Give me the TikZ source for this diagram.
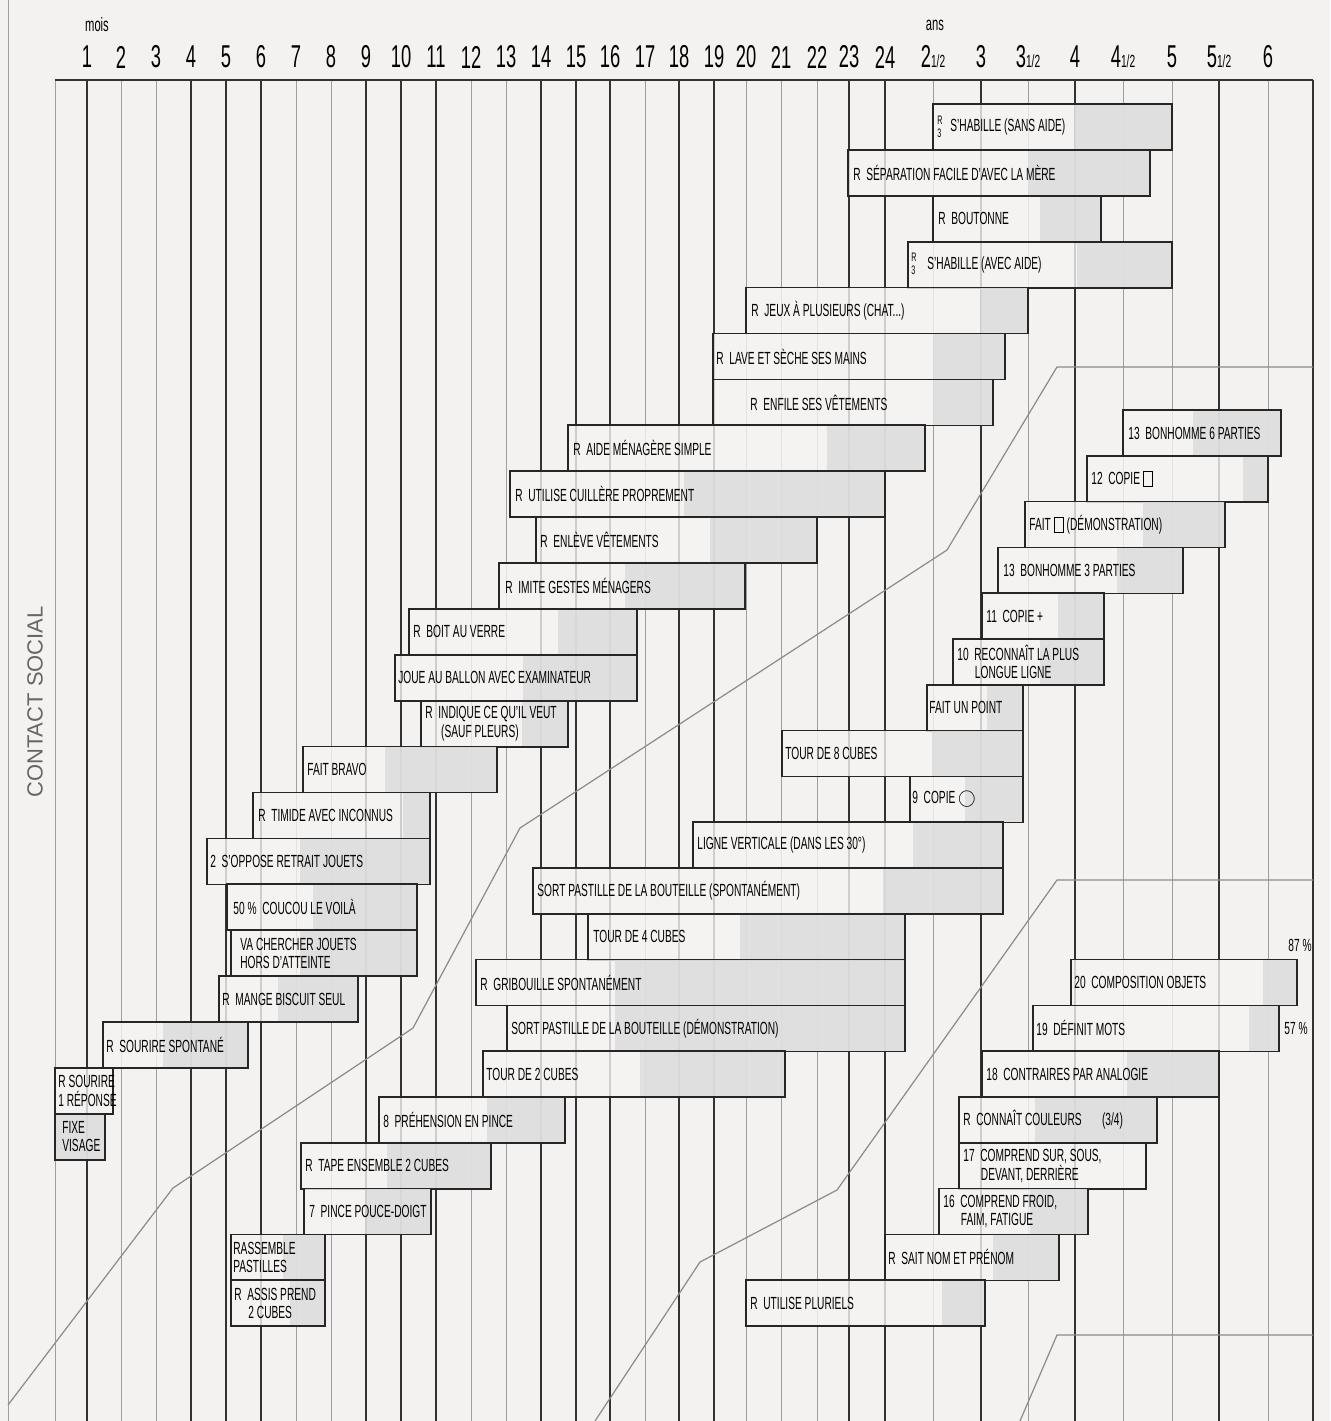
\documentclass[tikz,border=0pt]{standalone}
\usepackage{fontspec}
\setmainfont{Liberation Sans}[FakeStretch=0.58]
\newfontfamily\titrefont{Liberation Sans}
\definecolor{fond}{RGB}{244,242,240}
\definecolor{fondbarre}{RGB}{246,244,242}
\definecolor{gris}{RGB}{218,218,219}

\tikzset{
  grillefine/.style={draw=black!38, line width=0.5pt},
  grilleforte/.style={draw=black!80, line width=1.1pt},
  courbe/.style={draw=black!45, line width=0.7pt},
  barre/.style={fill=fondbarre, fill opacity=0.8},
  ombre/.style={fill=gris, fill opacity=0.8},
  cadre/.style={draw=black!85, line width=1pt},
  lab/.style={anchor=west, inner sep=0pt, align=left, font=\fontsize{10}{10.5}\selectfont},
  petit/.style={anchor=west, inner sep=0pt, align=left, font=\fontsize{7}{7.5}\selectfont},
  entete/.style={inner sep=0pt, font=\fontsize{18}{18}\selectfont},
}

\newcommand\carre{\raisebox{-1pt}{\setlength\fboxsep{0pt}\fbox{\rule{0pt}{8pt}\hspace{5pt}}}}
\newcommand\demi{{\fontsize{10}{10}\selectfont 1/2}}

% une epreuve : nom, haut, gauche, debut ombre, droite, x du texte, texte
\newcommand\epreuve[7]{%
  \pgfmathsetmacro\haut{#2}
  \fill[barre] (#3,\haut) rectangle (#5,\haut+46);
  \fill[ombre] (#4,\haut) rectangle (#5,\haut+46);
  \draw[cadre] (#3,\haut) rectangle (#5,\haut+46);
  \node[lab] (#1) at (#6,\haut+23) {#7};
}

\begin{document}
\begin{tikzpicture}[x=0.02cm, y=-0.02cm]
  \useasboundingbox (0,0) rectangle (1330,1421);
  \fill[fond] (0,0) rectangle (1330,1421);
  \draw[grillefine] (8,0) -- (8,1421);
  % echelle des ages
  \node[entete, font=\fontsize{11}{11}\selectfont] (mois) at (97,25) {mois};
  \node[entete, font=\fontsize{11}{11}\selectfont] (ans) at (935,25) {ans};
  \foreach \x/\t [count=\i] in {87/1,121/2,156/3,191/4,226/5,261/6,296/7,331/8,
      366/9,401/10,436/11,471/12,506/13,541/14,576/15,610/16,645/17,679/18,
      714/19,746/20,781/21,817/22,849/23,885/24,933/{2\demi},981/3,
      1028/{3\demi},1075/4,1123/{4\demi},1172/5,1219/{5\demi},1268/6}
    \node[entete] (age\i) at (\x,57) {\t};
  \foreach \x in {55,121,156,296,331,471,506,645,746,781,817,933,1028,1123,1172,1268}
    \draw[grillefine] (\x,80) -- (\x,1421);
  \foreach \x in {87,191,226,261,366,401,436,541,576,610,679,714,849,885,981,1075,1219,1313}
    \draw[grilleforte] (\x,80) -- (\x,1421);
  \draw[grilleforte] (55,80) -- (1313,80);
  % limites des secteurs
  \draw[courbe] (8,1405) -- (173,1188) -- (413,1028) -- (520,828) -- (947,550)
    -- (1057,367) -- (1313,367);
  \draw[courbe] (595,1421) -- (700,1262) -- (837,1190) -- (1057,880) -- (1313,880);
  \draw[courbe] (1020,1421) -- (1057,1335) -- (1313,1335);
  \node[rotate=90, text=black!60, font=\titrefont\fontsize{12.5}{12.5}\selectfont] (secteur) at (35,702) {CONTACT SOCIAL};

  % contact social
  \epreuve{s0}{104}{933}{1075}{1172}{950}{S'HABILLE (SANS AIDE)}
  \epreuve{s1}{104+45.9}{848}{1028}{1150}{853}{R\ \ SÉPARATION FACILE D'AVEC LA MÈRE}
  \epreuve{s2}{104+45.9*2}{933}{1040}{1101}{938}{R\ \ BOUTONNE}
  \epreuve{s3}{104+45.9*3}{908}{1077}{1172}{927}{S'HABILLE (AVEC AIDE)}
  \epreuve{s4}{104+45.9*4}{746}{981}{1028}{751}{R\ \ JEUX À PLUSIEURS (CHAT...)}
  \epreuve{s5}{104+45.9*5}{713}{933}{1005}{716}{R\ \ LAVE ET SÈCHE SES MAINS}
  \epreuve{s6}{104+45.9*6}{713}{933}{993}{750}{R\ \ ENFILE SES VÊTEMENTS}
  \epreuve{s7}{104+45.9*7}{568}{827}{925}{573}{R\ \ AIDE MÉNAGÈRE SIMPLE}
  \epreuve{s8}{104+45.9*8}{510}{684}{885}{515}{R\ \ UTILISE CUILLÈRE PROPREMENT}
  \epreuve{s9}{104+45.9*9}{536}{710}{817}{540}{R\ \ ENLÈVE VÊTEMENTS}
  \epreuve{s10}{104+45.9*10}{499}{625}{745}{505}{R\ \ IMITE GESTES MÉNAGERS}
  \epreuve{s11}{104+45.9*11}{409}{558}{637}{413}{R\ \ BOIT AU VERRE}
  \epreuve{s12}{104+45.9*12}{395}{523}{637}{398}{JOUE AU BALLON AVEC EXAMINATEUR}
  \epreuve{s13}{104+45.9*13}{421}{522}{568}{425}{R\ \ INDIQUE CE QU'IL VEUT\\\hspace*{9pt}(SAUF PLEURS)}
  \epreuve{s14}{104+45.9*14}{303}{385}{497}{307}{FAIT BRAVO}
  \epreuve{s15}{104+45.9*15}{253}{403}{430}{258}{R\ \ TIMIDE AVEC INCONNUS}
  \epreuve{s16}{104+45.9*16}{207}{300}{430}{210}{2\ \ S'OPPOSE RETRAIT JOUETS}
  \epreuve{s17}{104+45.9*17}{227}{313}{417}{233}{50\,\%\ \ COUCOU LE VOILÀ}
  \epreuve{s18}{104+45.9*18}{231}{300}{417}{240}{VA CHERCHER JOUETS\\HORS D'ATTEINTE}
  \epreuve{s19}{104+45.9*19}{219}{278}{358}{222}{R\ \ MANGE BISCUIT SEUL}
  \epreuve{s20}{104+45.9*20}{103}{163}{248}{106}{R\ \ SOURIRE SPONTANÉ}
  \epreuve{s21}{104+45.9*21}{55}{113}{113}{58}{R\ SOURIRE\\1 RÉPONSE}
  \epreuve{s22}{104+45.9*22}{55}{55}{105}{62}{FIXE\\VISAGE}
  \node[petit] (r0) at (937,127) {R\\3};
  \node[petit] (r3) at (911,264) {R\\3};

  % motricite fine - adaptation
  \epreuve{f0}{410}{1123}{1193}{1281}{1128}{13\ \ BONHOMME 6 PARTIES}
  \epreuve{f1}{410+45.8}{1087}{1243}{1268}{1091}{12\ \ COPIE \carre}
  \epreuve{f2}{410+45.8*2}{1025}{1143}{1225}{1029}{FAIT \carre\ (DÉMONSTRATION)}
  \epreuve{f3}{410+45.8*3}{998}{1117}{1183}{1003}{13\ \ BONHOMME 3 PARTIES}
  \epreuve{f4}{410+45.8*4}{982}{1058}{1104}{986}{11\ \ COPIE +}
  \epreuve{f5}{410+45.8*5}{953}{1040}{1104}{957}{10\ \ RECONNAÎT LA PLUS\\\hspace*{10pt}LONGUE LIGNE}
  \epreuve{f6}{410+45.8*6}{927}{987}{1023}{929}{FAIT UN POINT}
  \epreuve{f7}{410+45.8*7}{782}{932}{1023}{785}{TOUR DE 8 CUBES}
  \epreuve{f8}{410+45.8*8}{910}{965}{1023}{912}{9\ \ COPIE $\bigcirc$}
  \epreuve{f9}{410+45.8*9}{693}{913}{1003}{697}{LIGNE VERTICALE (DANS LES 30°)}
  \epreuve{f10}{410+45.8*10}{533}{883}{1003}{537}{SORT PASTILLE DE LA BOUTEILLE (SPONTANÉMENT)}
  \epreuve{f11}{410+45.8*11}{588}{740}{905}{593}{TOUR DE 4 CUBES}
  \epreuve{f12}{410+45.8*12}{476}{615}{905}{480}{R\ \ GRIBOUILLE SPONTANÉMENT}
  \epreuve{f13}{410+45.8*13}{507}{615}{905}{511}{SORT PASTILLE DE LA BOUTEILLE (DÉMONSTRATION)}
  \epreuve{f14}{410+45.8*14}{483}{640}{785}{486}{TOUR DE 2 CUBES}
  \epreuve{f15}{410+45.8*15}{379}{487}{565}{383}{8\ \ PRÉHENSION EN PINCE}
  \epreuve{f16}{410+45.8*16}{301}{387}{491}{305}{R\ \ TAPE ENSEMBLE 2 CUBES}
  \epreuve{f17}{410+45.8*17}{304}{367}{431}{309}{7\ \ PINCE POUCE-DOIGT}
  \epreuve{f18}{410+45.8*18}{231}{283}{325}{233}{RASSEMBLE\\PASTILLES}
  \epreuve{f19}{410+45.8*19}{231}{290}{325}{234}{R\ \ ASSIS PREND\\\hspace*{8pt}2 CUBES}

  % langage
  \epreuve{l12}{410+45.8*12}{1071}{1263}{1297}{1074}{20\ \ COMPOSITION OBJETS}
  \epreuve{l13}{410+45.8*13}{1033}{1249}{1279}{1036}{19\ \ DÉFINIT MOTS}
  \epreuve{l14}{410+45.8*14}{982}{1127}{1219}{986}{18\ \ CONTRAIRES PAR ANALOGIE}
  \epreuve{l15}{410+45.8*15}{959}{1035}{1157}{963}{R\ \ CONNAÎT COULEURS\quad\ (3/4)}
  \epreuve{l16}{410+45.8*16}{959}{1146}{1146}{963}{17\ \ COMPREND SUR, SOUS,\\\hspace*{10pt}DEVANT, DERRIÈRE}
  \epreuve{l17}{410+45.8*17}{939}{1030}{1088}{943}{16\ \ COMPREND FROID,\\\hspace*{10pt}FAIM, FATIGUE}
  \epreuve{l18}{410+45.8*18}{885}{993}{1059}{888}{R\ \ SAIT NOM ET PRÉNOM}
  \epreuve{l19}{410+45.8*19}{746}{942}{985}{750}{R\ \ UTILISE PLURIELS}
  \node[lab] (p87) at (1288,945) {87 \%};
  \node[lab] (p57) at (1284,1028) {57 \%};
\end{tikzpicture}
\end{document}
